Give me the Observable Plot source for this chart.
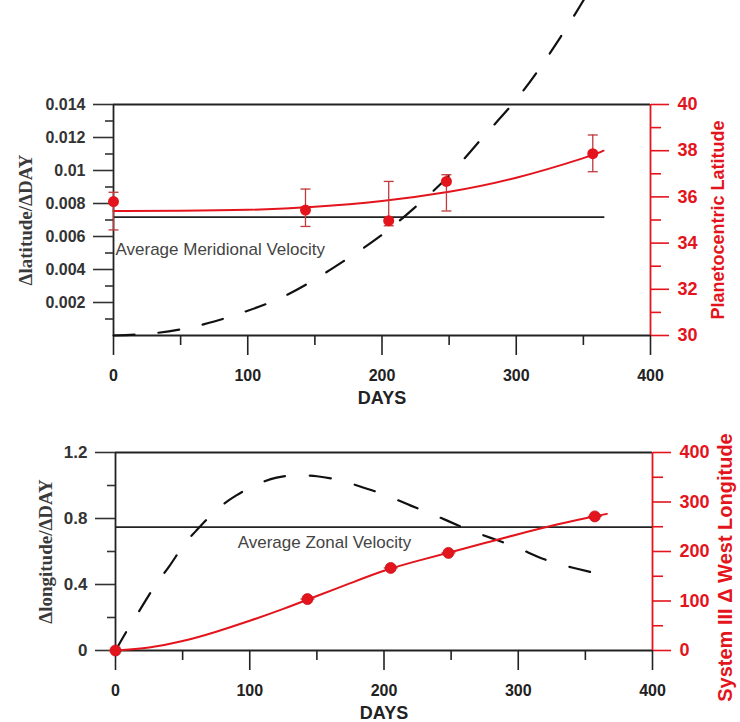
<!DOCTYPE html>
<html><head><meta charset="utf-8">
<script src="https://cdn.jsdelivr.net/npm/d3@7"></script>
<script src="https://cdn.jsdelivr.net/npm/@observablehq/plot@0.6"></script>
<style>
body{margin:0;background:#fff}
#chart{width:740px}
#chart svg{display:block;overflow:visible}
</style>
</head><body><div id="chart"></div>
<script>
// ---------- data ----------
// Top panel: planetocentric latitude (deg) vs days
const obsDays = [0, 143, 205, 248, 357];
const latitude = [35.80, 35.43, 34.97, 36.67, 37.87];
const latLow = [34.57, 34.72, 34.75, 35.39, 37.09];
const latHigh = [36.20, 36.34, 36.67, 36.96, 38.68];
const latFitDays = [0, 50, 100, 150, 200, 250, 300, 350, 365];
const latFit = [35.39, 35.40, 35.44, 35.57, 35.82, 36.22, 36.83, 37.68, 38.00];
const latRateDays = [0, 25, 50, 75, 100, 125, 150, 175, 200, 225, 250, 275, 300, 325, 350, 365];
const latRate = [0, 0.0001, 0.00037, 0.00085, 0.0015, 0.0023, 0.0034, 0.0047, 0.0061, 0.0078, 0.0097, 0.0120, 0.0143, 0.0171, 0.0203, 0.0225];
const meridionalAvg = 0.00717;
const meridionalAvgEnd = 366;

// Bottom panel: System III west longitude change (deg) vs days
const longitude = [0, 103.9, 166.8, 197.2, 270.9];
const lonLow = [-2, 101, 164, 194, 268];
const lonHigh = [2, 107, 170, 200, 274];
const lonFitDays = [0, 25, 50, 75, 100, 125, 150, 175, 200, 225, 250, 275, 300, 325, 350, 366];
const lonFit = [0, 6, 19, 38, 60, 84, 110, 136, 161, 181, 199, 217, 235, 252, 267, 276];
const lonRateDays = [0, 10, 20, 30, 40, 50, 60, 75, 90, 105, 120, 135, 150, 165, 180, 200, 220, 240, 260, 280, 300, 320, 340, 360, 366];
const lonRate = [0, 0.14, 0.27, 0.40, 0.51, 0.63, 0.725, 0.85, 0.94, 1.005, 1.048, 1.062, 1.056, 1.035, 1.0, 0.945, 0.878, 0.812, 0.742, 0.681, 0.62, 0.551, 0.503, 0.463, 0.448];
const zonalAvg = 0.748;

// ticks
const dayTicks = [0, 100, 200, 300, 400];
const dayMinor = [50, 150, 250, 350];
const rateTicksTop = [0.002, 0.004, 0.006, 0.008, 0.01, 0.012, 0.014];
const rateMinorTop = [0.001, 0.003, 0.005, 0.007, 0.009, 0.011, 0.013];
const latTicks = [30, 32, 34, 36, 38, 40];
const latMinor = [31, 33, 35, 37, 39];
const rateTicksBot = [0, 0.4, 0.8, 1.2];
const rateMinorBot = [0.2, 0.6, 1.0];
const lonTicks = [0, 100, 200, 300, 400];
const lonMinor = [50, 150, 250, 350];

// label anchors
const meridionalLabel = {day: 0, rate: 0.0052};
const zonalLabel = {day: 91, rate: 0.656};

// ---------- helpers ----------
const RED = "#e3141c";
const BAR = "#c0393c";
const INK = "#222";
const SANS = "Liberation Sans, Arial, Helvetica, sans-serif";
const SERIF = "Liberation Serif, Times New Roman, serif";
const latToRate = v => (v - 30) * 0.0014;   // right axis 30..40 -> left 0..0.014
const lonToRate = v => v * 0.003;           // right axis 0..400 -> left 0..1.2
const capSymbol = {draw(ctx, size) { const r = Math.sqrt(size / Math.PI); ctx.moveTo(-r, 0); ctx.lineTo(r, 0); }};

const zip2 = (xs, ys, kx, ky) => xs.map((x, i) => ({[kx]: x, [ky]: ys[i]}));

const latObs = obsDays.map((d, i) => ({day: d, v: latitude[i], lo: latLow[i], hi: latHigh[i]}));
const latFitT = zip2(latFitDays, latFit, "day", "v");
const latRateT = zip2(latRateDays, latRate, "day", "rate");
const lonObs = obsDays.map((d, i) => ({day: d, v: longitude[i], lo: lonLow[i], hi: lonHigh[i]}));
const lonFitT = zip2(lonFitDays, lonFit, "day", "v");
const lonRateT = zip2(lonRateDays, lonRate, "day", "rate");

function xAxes() {
  return [
    Plot.axisX({ticks: dayTicks, tickSize: 20, tickPadding: 14, tickFormat: d => String(d), label: null,
      fontSize: 16, fontWeight: "bold", color: INK, strokeWidth: 1.6}),
    Plot.axisX({ticks: dayMinor, tickSize: 10, tickFormat: () => "", label: null, color: INK, strokeWidth: 1.6}),
    Plot.text(["DAYS"], {frameAnchor: "bottom", dy: 63, fontSize: 18, fontWeight: "bold", fill: INK, lineAnchor: "middle", textAnchor: "middle"})
  ];
}

// ---------- top panel ----------
const topPlot = Plot.plot({
  width: 740, height: 400,
  marginTop: 104, marginBottom: 65, marginLeft: 113, marginRight: 90,
  x: {domain: [0, 400]},
  y: {domain: [0, 0.014]},
  style: {fontFamily: SANS, background: "transparent", overflow: "visible"},
  marks: [
    Plot.ruleY([0.014], {stroke: INK, strokeWidth: 1.8}),
    Plot.ruleY([0], {stroke: INK, strokeWidth: 1.8}),
    Plot.ruleX([0], {stroke: INK, strokeWidth: 1.8}),
    Plot.ruleX([400], {stroke: RED, strokeWidth: 1.8}),
    ...xAxes(),
    Plot.axisY({ticks: rateTicksTop, tickSize: 20, tickPadding: 8, tickFormat: d => String(+d.toFixed(3)), label: null,
      fontSize: 16, fontWeight: "bold", color: "#333", strokeWidth: 1.6}),
    Plot.axisY({ticks: rateMinorTop, tickSize: 8, tickFormat: () => "", label: null, color: "#333", strokeWidth: 1.6}),
    Plot.axisY({anchor: "right", ticks: latTicks.map(latToRate), tickSize: 18, tickPadding: 9,
      tickFormat: (d, i) => String(latTicks[i]), label: null, fontSize: 18, fontWeight: "bold", color: RED, strokeWidth: 1.6}),
    Plot.axisY({anchor: "right", ticks: latMinor.map(latToRate), tickSize: 10, tickFormat: () => "", label: null, color: RED, strokeWidth: 1.6}),
    Plot.text(["Δlatitude/ΔDAY"], {frameAnchor: "left", textAnchor: "middle", lineAnchor: "middle", rotate: -90, dx: -88, fontFamily: SERIF, fontSize: 19, fontWeight: "bold", fill: "#3a3a3a"}),
    Plot.text(["Planetocentric Latitude"], {frameAnchor: "right", textAnchor: "middle", lineAnchor: "middle", rotate: -90, dx: 68, fontSize: 18, fontWeight: "bold", fill: RED}),
    Plot.ruleY([meridionalAvg], {x1: 0, x2: meridionalAvgEnd, stroke: INK, strokeWidth: 1.8}),
    Plot.text(["Average Meridional Velocity"], {x: meridionalLabel.day, y: meridionalLabel.rate, textAnchor: "start", dx: 2, fontSize: 17, fill: "#444"}),
    Plot.line(latRateT, {x: "day", y: "rate", stroke: "#111", strokeWidth: 2.2, strokeDasharray: "21,24", curve: "natural"}),
    Plot.line(latFitT, {x: "day", y: d => latToRate(d.v), stroke: RED, strokeWidth: 2, curve: "natural"}),
    Plot.ruleX(latObs, {x: "day", y1: d => latToRate(d.lo), y2: d => latToRate(d.hi), stroke: BAR, strokeWidth: 1.3}),
    Plot.dot(latObs, {x: "day", y: d => latToRate(d.lo), symbol: capSymbol, r: 5, stroke: BAR, strokeWidth: 1.3, fill: "none"}),
    Plot.dot(latObs, {x: "day", y: d => latToRate(d.hi), symbol: capSymbol, r: 5, stroke: BAR, strokeWidth: 1.3, fill: "none"}),
    Plot.dot(latObs, {x: "day", y: d => latToRate(d.v), r: 5.5, fill: RED, stroke: "none"})
  ]
});

// ---------- bottom panel ----------
const botPlot = Plot.plot({
  width: 740, height: 322,
  marginTop: 52, marginBottom: 72, marginLeft: 115, marginRight: 88,
  x: {domain: [0, 400]},
  y: {domain: [0, 1.2]},
  style: {fontFamily: SANS, background: "transparent", overflow: "visible"},
  marks: [
    Plot.ruleY([1.2], {stroke: INK, strokeWidth: 1.8}),
    Plot.ruleY([0], {stroke: INK, strokeWidth: 1.8}),
    Plot.ruleX([0], {stroke: INK, strokeWidth: 1.8}),
    Plot.ruleX([400], {stroke: RED, strokeWidth: 1.8}),
    ...xAxes(),
    Plot.axisY({ticks: rateTicksBot, tickSize: 20, tickPadding: 8, tickFormat: d => String(d), label: null,
      fontSize: 17, fontWeight: "bold", color: "#333", strokeWidth: 1.6}),
    Plot.axisY({ticks: rateMinorBot, tickSize: 8, tickFormat: () => "", label: null, color: "#333", strokeWidth: 1.6}),
    Plot.axisY({anchor: "right", ticks: lonTicks.map(lonToRate), tickSize: 18, tickPadding: 9,
      tickFormat: (d, i) => String(lonTicks[i]), label: null, fontSize: 18, fontWeight: "bold", color: RED, strokeWidth: 1.6}),
    Plot.axisY({anchor: "right", ticks: lonMinor.map(lonToRate), tickSize: 10, tickFormat: () => "", label: null, color: RED, strokeWidth: 1.6}),
    Plot.text(["Δlongitude/ΔDAY"], {frameAnchor: "left", textAnchor: "middle", lineAnchor: "middle", rotate: -90, dx: -70, fontFamily: SERIF, fontSize: 19, fontWeight: "bold", fill: "#3a3a3a"}),
    Plot.text(["System III Δ West Longitude"], {frameAnchor: "right", textAnchor: "middle", lineAnchor: "middle", rotate: -90, dx: 73, dy: 16, fontSize: 20, fontWeight: "bold", fill: RED}),
    Plot.ruleY([zonalAvg], {stroke: INK, strokeWidth: 1.8}),
    Plot.text(["Average Zonal Velocity"], {x: zonalLabel.day, y: zonalLabel.rate, textAnchor: "start", fontSize: 17, fill: "#444"}),
    Plot.line(lonRateT, {x: "day", y: "rate", stroke: "#111", strokeWidth: 2.2, strokeDasharray: "21,25", curve: "natural"}),
    Plot.line(lonFitT, {x: "day", y: d => lonToRate(d.v), stroke: RED, strokeWidth: 2, curve: "natural"}),
    Plot.ruleX(lonObs, {x: "day", y1: d => lonToRate(d.lo), y2: d => lonToRate(d.hi), stroke: BAR, strokeWidth: 1.3}),
    Plot.dot(lonObs, {x: "day", y: d => lonToRate(d.v), symbol: capSymbol, r: 7, stroke: BAR, strokeWidth: 1.3, fill: "none"}),
    Plot.dot(lonObs, {x: "day", y: d => lonToRate(d.v), r: 5.5, fill: RED, stroke: "#c8101a", strokeWidth: 0.8})
  ]
});

const root = document.getElementById("chart");
root.appendChild(topPlot);
root.appendChild(botPlot);
</script>
</body></html>
